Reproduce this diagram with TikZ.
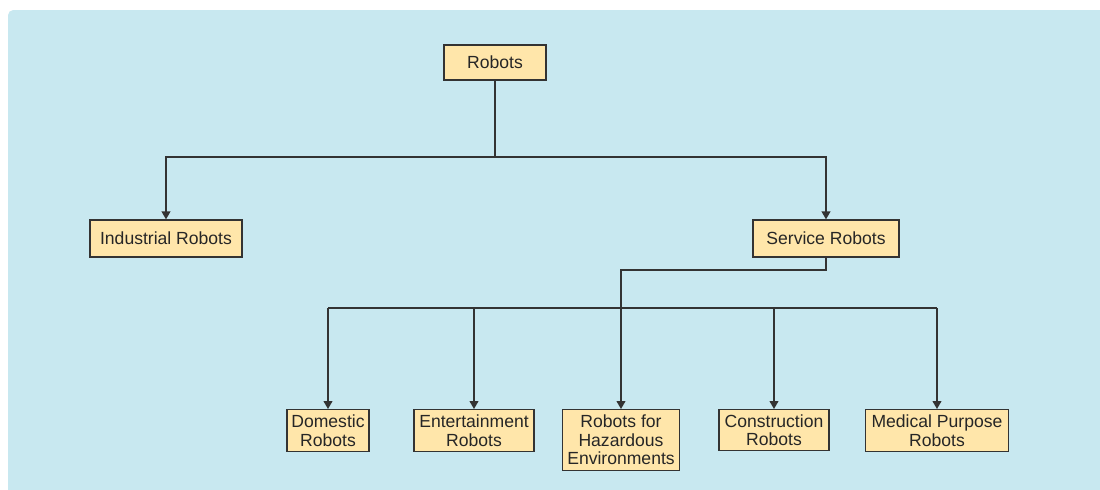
\documentclass[tikz,border=0pt]{standalone}
\usepackage{fontspec}
\setmainfont{Liberation Sans}
\usetikzlibrary{arrows.meta}
\definecolor{bgblue}{RGB}{200,232,240}
\definecolor{boxfill}{RGB}{255,230,170}
\definecolor{boxline}{RGB}{51,51,51}
\tikzstyle{rbox}=[rectangle,draw=boxline,fill=boxfill,line width=0.75pt,inner xsep=2pt,inner ysep=1pt,align=center,text=black!85,font=\fontsize{10}{10.5}\selectfont]
\tikzstyle{tree}=[->, >={Triangle[length=4.5pt,width=5pt]}, line width=0.75pt, draw=boxline]

\begin{document}
\begin{tikzpicture}[x=0.02cm,y=-0.02cm]
\useasboundingbox (0,0) rectangle (1100,490);
\fill[bgblue] (8,490) [rounded corners=3pt] -- (8,10) [sharp corners] -- (1100,10) -- (1100,490) -- cycle;
\node[rbox,minimum width=2.04cm,minimum height=0.7cm] (robots) at (495,62.5) {Robots};
\node[rbox,minimum width=3.04cm,minimum height=0.74cm] (ind) at (166,238.5) {Industrial Robots};
\node[rbox,minimum width=2.92cm,minimum height=0.74cm] (serv) at (826,238.5) {Service Robots};
\node[rbox,anchor=north,minimum width=1.64cm,minimum height=0.84cm] (dom) at (328,409) {Domestic\\Robots};
\node[rbox,anchor=north,minimum width=2.4cm,minimum height=0.84cm] (ent) at (474,409) {Entertainment\\Robots};
\node[rbox,anchor=north,minimum width=2.34cm,minimum height=1.22cm] (haz) at (621,409) {Robots for\\Hazardous\\Environments};
\node[rbox,anchor=north,minimum width=2.2cm,minimum height=0.82cm] (con) at (774,409) {Construction\\Robots};
\node[rbox,anchor=north,minimum width=2.86cm,minimum height=0.84cm] (med) at (937,409) {Medical Purpose\\Robots};
\coordinate (split) at (495,157);
\coordinate (turn) at (621,270);
\coordinate (barL) at (328,308);\coordinate (barR) at (937,308);
\draw[tree,-] (robots)--(split);
\draw[tree](split)-|(ind);\draw[tree](split)-|(serv);
\draw[tree](serv)|-(turn)--(haz);
\draw[tree,-](barL)--(barR);
\foreach \n in {dom,ent,con,med} \draw[tree](\n |- barL)--(\n);
\end{tikzpicture}
\end{document}
